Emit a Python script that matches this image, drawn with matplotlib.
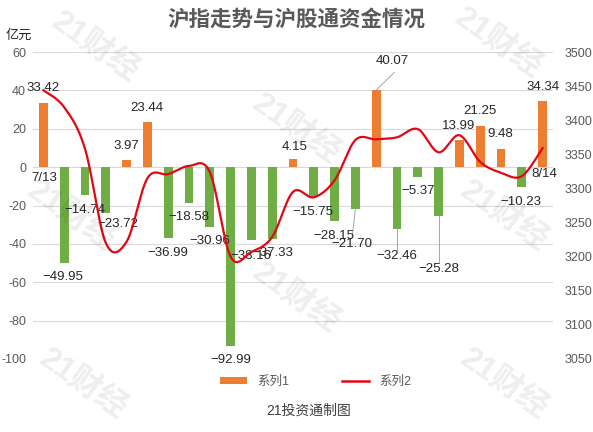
#!/usr/bin/env python3
# -*- coding: utf-8 -*-

import numpy as np
import matplotlib
matplotlib.use('Agg')
import matplotlib.pyplot as plt
from matplotlib.lines import Line2D
from matplotlib.patches import Patch

plt.rcParams['font.family'] = ['Liberation Sans', 'Noto Sans CJK SC', 'DejaVu Sans']
plt.rcParams['axes.unicode_minus'] = False

# 数据
dates = ['7/13', '7/14', '7/15', '7/16', '7/17', '7/20', '7/21', '7/22', '7/23', '7/24',
         '7/27', '7/28', '7/29', '7/30', '7/31', '8/3', '8/4', '8/5', '8/6', '8/7',
         '8/10', '8/11', '8/12', '8/13', '8/14']
flow = [33.42, -49.95, -14.74, -23.72, 3.97, 23.44, -36.99, -18.58, -30.96, -92.99,
        -38.16, -37.33, 4.15, -15.75, -28.15, -21.70, 40.07, -32.46, -5.37, -25.28,
        13.99, 21.25, 9.48, -10.23, 34.34]
index_close = [3444, 3419, 3358, 3220, 3222, 3315, 3321, 3333, 3324, 3200,
               3207, 3229, 3295, 3287, 3312, 3371, 3372, 3375, 3387, 3353,
               3378, 3339, 3323, 3318, 3359]
left_ticks = [-100, -80, -60, -40, -20, 0, 20, 40, 60]
right_ticks = [3050, 3100, 3150, 3200, 3250, 3300, 3350, 3400, 3450, 3500]

# 数据标签位置（x序号, 左轴数值）
lab_pos = [(0, 41.2), (0.95, -57.3), (2.0, -22.4), (3.6, -29.6), (4.0, 11.0),
           (4.98, 30.8), (6.0, -44.8), (7.0, -26.0), (8.0, -38.5), (9.0, -100.5),
           (9.98, -46.3), (11.04, -44.8), (12.1, 10.5), (12.96, -23.4), (13.97, -35.9),
           (14.84, -40.1), (16.76, 55.3), (17.0, -46.3), (18.0, -12.5), (19.0, -53.1),
           (19.98, 21.4), (20.99, 29.2), (21.95, 17.2), (22.96, -18.2), (24.02, 41.7)]
leader = [15, 16, 17, 19]

ORANGE = '#ED7D31'
GREEN = '#70AD47'
RED = '#E30613'
GRAY = '#595959'

fig = plt.figure(figsize=(5.93, 4.32), dpi=100)
fig.patch.set_facecolor('white')

ax = fig.add_axes([0.0557, 0.169, 0.8768, 0.7106])
ax.patch.set_alpha(0)
x = np.arange(len(flow))
colors = [ORANGE if v >= 0 else GREEN for v in flow]
ax.bar(x, flow, width=0.43, color=colors, zorder=2)
ax.set_xlim(-0.5, len(flow) - 0.5)
ax.set_ylim(-100, 60)
ax.set_yticks(left_ticks)
ax.set_xticks([])
ax.grid(axis='y', color='#d9d9d9', linewidth=0.8, zorder=0)
ax.set_axisbelow(True)
for s in ax.spines.values():
    s.set_visible(False)
ax.tick_params(axis='y', length=0, labelsize=9, labelcolor=GRAY, pad=5)

# 数据标签
for i, v in enumerate(flow):
    lx, ly = lab_pos[i]
    txt = ('%.2f' % v).replace('-', '\u2212')
    ax.text(lx, ly, txt, ha='center', va='center', fontsize=9.5, color='#262626', zorder=5)
    if i in leader:
        if i == 16:
            ax.plot([i, lx + 0.1], [v, ly - 6], color='#a6a6a6', linewidth=0.7, zorder=4)
        else:
            ax.plot([i, lx], [v, ly + 3], color='#a6a6a6', linewidth=0.7, zorder=4)
ax.text(0.03, -5.7, dates[0], ha='center', va='center', fontsize=9.5, color='#262626', zorder=5)
ax.text(24.1, -3.6, dates[-1], ha='center', va='center', fontsize=9.5, color='#262626', zorder=5)

# 平滑曲线 (Catmull-Rom)
ax2 = ax.twinx()
ax2.patch.set_alpha(0)
p = np.array(index_close, dtype=float)
xs, ys = [], []
for k in range(len(p) - 1):
    p0 = p[k - 1] if k > 0 else p[k]
    p3 = p[k + 2] if k + 2 < len(p) else p[k + 1]
    x0 = k - 1 if k > 0 else k
    x3 = k + 2 if k + 2 < len(p) else k + 1
    c1y = p[k] + (p[k + 1] - p0) / 6
    c2y = p[k + 1] - (p3 - p[k]) / 6
    c1x = k + (k + 1 - x0) / 6
    c2x = k + 1 - (x3 - k) / 6
    t = np.linspace(0, 1, 30)
    xs.extend((1 - t) ** 3 * k + 3 * (1 - t) ** 2 * t * c1x + 3 * (1 - t) * t ** 2 * c2x + t ** 3 * (k + 1))
    ys.extend((1 - t) ** 3 * p[k] + 3 * (1 - t) ** 2 * t * c1y + 3 * (1 - t) * t ** 2 * c2y + t ** 3 * p[k + 1])
ax2.plot(xs, ys, color=RED, linewidth=1.6, zorder=3)
ax2.set_ylim(3050, 3500)
ax2.set_yticks(right_ticks)
for s in ax2.spines.values():
    s.set_visible(False)
ax2.tick_params(axis='y', length=0, labelsize=9, labelcolor=GRAY, pad=8)

# 水印
for wx, wy in [(0.16, 0.89), (0.84, 0.90), (0.50, 0.70), (0.12, 0.50), (0.85, 0.50),
               (0.50, 0.31), (0.14, 0.11), (0.85, 0.11)]:
    fig.text(wx, wy, '21财经', fontsize=23, fontweight='bold', color='black', alpha=0.07,
             rotation=-35, ha='center', va='center', zorder=10)

# 标题和文字
fig.text(0.5, 0.953, '沪指走势与沪股通资金情况', ha='center', va='center',
         fontsize=15.5, fontweight='bold', color=GRAY)
fig.text(0.01, 0.918, '亿元', ha='left', va='center', fontsize=9.5, color='#262626')
fig.text(0.521, 0.05, '21投资通制图', ha='center', va='center', fontsize=10, color='#404040')

handles = [Patch(facecolor=ORANGE), Line2D([0], [0], color=RED, linewidth=1.8)]
fig.legend(handles, ['系列1', '系列2'], loc='center', bbox_to_anchor=(0.532, 0.116), ncol=2,
           frameon=False, fontsize=9, labelcolor=GRAY, handlelength=2.2, handleheight=0.5,
           columnspacing=4.2)

fig.savefig('out.png', dpi=100)
